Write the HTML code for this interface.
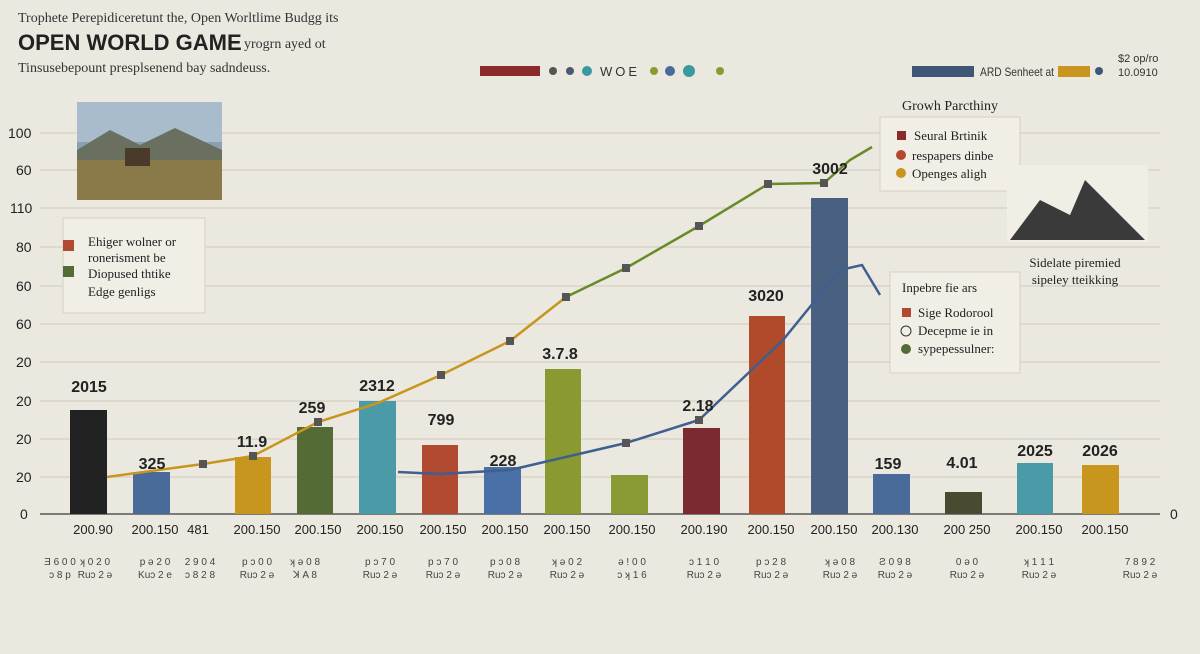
<!DOCTYPE html>
<html><head><meta charset="utf-8"><style>
body{margin:0;background:#ebe8df;}
svg{display:block;font-family:"Liberation Sans",sans-serif;}
</style></head><body>
<svg width="1200" height="654" viewBox="0 0 1200 654" xmlns="http://www.w3.org/2000/svg">
<rect width="1200" height="654" fill="#ebe8df"/>
<text x="18" y="22" font-family="Liberation Serif" font-size="14" fill="#333">Trophete Perepidiceretunt the, Open Worltlime Budgg its</text>
<text x="18" y="50" font-size="22" font-weight="bold" fill="#222">OPEN WORLD GAME</text>
<text x="244" y="48" font-family="Liberation Serif" font-size="14" fill="#333">yrogrn ayed ot</text>
<text x="18" y="72" font-family="Liberation Serif" font-size="14" fill="#333">Tinsusebepount presplsenend bay sadndeuss.</text>
<rect x="480" y="66" width="60" height="10" fill="#8a2a2a"/>
<circle cx="553" cy="71" r="4" fill="#555"/><circle cx="570" cy="71" r="4" fill="#4a5a70"/><circle cx="587" cy="71" r="5" fill="#3a9aa0"/>
<text x="600" y="76" font-size="13" fill="#333" letter-spacing="3">WOE</text>
<circle cx="654" cy="71" r="4" fill="#8a9a30"/><circle cx="670" cy="71" r="5" fill="#4a6a9a"/><circle cx="689" cy="71" r="6" fill="#3a9aa0"/><circle cx="720" cy="71" r="4" fill="#8a9a30"/>
<rect x="912" y="66" width="62" height="11" fill="#3f5777"/>
<text x="980" y="76" font-size="12" fill="#333" textLength="74" lengthAdjust="spacingAndGlyphs">ARD Senheet at</text>
<rect x="1058" y="66" width="32" height="11" fill="#c8961e"/>
<circle cx="1099" cy="71" r="4" fill="#3f5777"/>
<text x="1118" y="62" font-size="11" fill="#333">$2 op/ro</text>
<text x="1118" y="76" font-size="11" fill="#333">10.0910</text>
<g stroke="#cfcabd" stroke-width="1">
<line x1="40" y1="133" x2="1160" y2="133"/><line x1="40" y1="170" x2="1160" y2="170"/><line x1="40" y1="208" x2="1160" y2="208"/><line x1="40" y1="247" x2="1160" y2="247"/><line x1="40" y1="286" x2="1160" y2="286"/><line x1="40" y1="324" x2="1160" y2="324"/><line x1="40" y1="362" x2="1160" y2="362"/><line x1="40" y1="401" x2="1160" y2="401"/><line x1="40" y1="439" x2="1160" y2="439"/><line x1="40" y1="477" x2="1160" y2="477"/>
</g>
<line x1="40" y1="514" x2="1160" y2="514" stroke="#555" stroke-width="1.5"/>
<g font-size="14" fill="#222">
<text x="8" y="138">100</text><text x="16" y="175">60</text><text x="10" y="213">110</text><text x="16" y="252">80</text><text x="16" y="291">60</text><text x="16" y="329">60</text><text x="16" y="367">20</text><text x="16" y="406">20</text><text x="16" y="444">20</text><text x="16" y="482">20</text><text x="20" y="519">0</text>
<text x="1170" y="519">0</text>
</g>
<rect x="70" y="410" width="37" height="104" fill="#222"/>
<rect x="133" y="472" width="37" height="42" fill="#4a6a9a"/>
<rect x="235" y="457" width="36" height="57" fill="#c8961e"/>
<rect x="297" y="427" width="36" height="87" fill="#556b35"/>
<rect x="359" y="401" width="37" height="113" fill="#4a9aa8"/>
<rect x="422" y="445" width="36" height="69" fill="#b04a30"/>
<rect x="484" y="467" width="37" height="47" fill="#4a70a8"/>
<rect x="545" y="369" width="36" height="145" fill="#8a9a30"/>
<rect x="611" y="475" width="37" height="39" fill="#8a9a35"/>
<rect x="683" y="428" width="37" height="86" fill="#7a2a30"/>
<rect x="749" y="316" width="36" height="198" fill="#b04a2a"/>
<rect x="811" y="198" width="37" height="316" fill="#4a6080"/>
<rect x="873" y="474" width="37" height="40" fill="#4a6a9a"/>
<rect x="945" y="492" width="37" height="22" fill="#4a4a30"/>
<rect x="1017" y="463" width="36" height="51" fill="#4a9aa8"/>
<rect x="1082" y="465" width="37" height="49" fill="#c8961e"/>
<polyline fill="none" stroke="#c8961e" stroke-width="2.5" points="107,477 203,464 253,456 318,422 378,403 441,375 510,341 566,297"/>
<polyline fill="none" stroke="#6a8a2a" stroke-width="2.5" points="566,297 626,268 699,226 768,184 824,183 850,160 872,147"/>
<polyline fill="none" stroke="#3f5f90" stroke-width="2.5" points="398,472 440,474 510,470 626,443 699,420 783,340 840,270 862,265 880,295"/>
<g fill="#555">
<rect x="199" y="460" width="8" height="8"/><rect x="249" y="452" width="8" height="8"/><rect x="314" y="418" width="8" height="8"/><rect x="437" y="371" width="8" height="8"/><rect x="506" y="337" width="8" height="8"/><rect x="562" y="293" width="8" height="8"/><rect x="622" y="264" width="8" height="8"/><rect x="695" y="222" width="8" height="8"/><rect x="764" y="180" width="8" height="8"/><rect x="820" y="179" width="8" height="8"/>
<rect x="622" y="439" width="8" height="8"/><rect x="695" y="416" width="8" height="8"/>
</g>
<g font-size="16" font-weight="bold" fill="#222" text-anchor="middle">
<text x="89" y="392">2015</text><text x="152" y="469">325</text><text x="252" y="447">11.9</text><text x="312" y="413">259</text><text x="377" y="391">2312</text><text x="441" y="425">799</text><text x="503" y="466">228</text><text x="560" y="359">3.7.8</text><text x="698" y="411">2.18</text><text x="766" y="301">3020</text><text x="830" y="174">3002</text><text x="888" y="469">159</text><text x="962" y="468">4.01</text><text x="1035" y="456">2025</text><text x="1100" y="456">2026</text>
</g>
<g font-size="13" fill="#222" text-anchor="middle">
<text x="93" y="534">200.90</text><text x="155" y="534">200.150</text><text x="198" y="534">481</text><text x="257" y="534">200.150</text><text x="318" y="534">200.150</text><text x="380" y="534">200.150</text><text x="443" y="534">200.150</text><text x="505" y="534">200.150</text><text x="567" y="534">200.150</text><text x="632" y="534">200.150</text><text x="704" y="534">200.190</text><text x="771" y="534">200.150</text><text x="834" y="534">200.150</text><text x="895" y="534">200.130</text><text x="967" y="534">200 250</text><text x="1039" y="534">200.150</text><text x="1105" y="534">200.150</text>
</g>
<g font-size="10" fill="#444" text-anchor="middle">
<text x="60" y="565">Ǝ 6 0 0</text><text x="60" y="578">ɔ 8 p</text>
<text x="95" y="565">ʞ 0 2 0</text><text x="95" y="578">Ruɔ 2 ə</text>
<text x="155" y="565">p ə 2 0</text><text x="155" y="578">Kuɔ 2 e</text>
<text x="200" y="565">2 9 0 4</text><text x="200" y="578">ɔ 8 2 8</text>
<text x="257" y="565">p ɔ 0 0</text><text x="257" y="578">Ruɔ 2 ə</text>
<text x="305" y="565">ʞ ə 0 8</text><text x="305" y="578">ꓘ A 8</text>
<text x="380" y="565">p ɔ 7 0</text><text x="380" y="578">Ruɔ 2 ə</text>
<text x="443" y="565">p ɔ 7 0</text><text x="443" y="578">Ruɔ 2 ə</text>
<text x="505" y="565">p ɔ 0 8</text><text x="505" y="578">Ruɔ 2 ə</text>
<text x="567" y="565">ʞ ə 0 2</text><text x="567" y="578">Ruɔ 2 ə</text>
<text x="632" y="565">ə ! 0 0</text><text x="632" y="578">ɔ ʞ 1 6</text>
<text x="704" y="565">ɔ 1 1 0</text><text x="704" y="578">Ruɔ 2 ə</text>
<text x="771" y="565">p ɔ 2 8</text><text x="771" y="578">Ruɔ 2 ə</text>
<text x="840" y="565">ʞ ə 0 8</text><text x="840" y="578">Ruɔ 2 ə</text>
<text x="895" y="565">Ƨ 0 9 8</text><text x="895" y="578">Ruɔ 2 ə</text>
<text x="967" y="565">0 ə 0</text><text x="967" y="578">Ruɔ 2 ə</text>
<text x="1039" y="565">ʞ 1 1 1</text><text x="1039" y="578">Ruɔ 2 ə</text>
<text x="1140" y="565">7 8 9 2</text><text x="1140" y="578">Ruɔ 2 ə</text>
</g>
<rect x="77" y="102" width="145" height="98" fill="#8aa0b0"/>
<rect x="77" y="102" width="145" height="40" fill="#a8bccb"/>
<polygon points="77,150 110,130 140,145 175,128 222,150 222,200 77,200" fill="#6a7060"/>
<rect x="77" y="160" width="145" height="40" fill="#8a7a4a"/>
<rect x="125" y="148" width="25" height="18" fill="#4a3a2a"/>
<rect x="63" y="218" width="142" height="95" fill="#f1eee6" stroke="#d5d0c4"/>
<rect x="63" y="240" width="11" height="11" fill="#b04a30"/>
<rect x="63" y="266" width="11" height="11" fill="#556b35"/>
<g font-family="Liberation Serif" font-size="13" fill="#222">
<text x="88" y="246">Ehiger wolner or</text><text x="88" y="262">ronerisment be</text><text x="88" y="278">Diopused thtike</text><text x="88" y="296">Edge genligs</text>
</g>
<text x="950" y="110" font-family="Liberation Serif" font-size="14" fill="#222" text-anchor="middle">Growh Parcthiny</text>
<rect x="880" y="117" width="140" height="74" fill="#f1eee6" stroke="#d5d0c4"/>
<rect x="897" y="131" width="9" height="9" fill="#8a2a2a"/><circle cx="901" cy="155" r="5" fill="#b04a30"/><circle cx="901" cy="173" r="5" fill="#c8961e"/>
<g font-family="Liberation Serif" font-size="13" fill="#222">
<text x="914" y="140">Seural Brtinik</text><text x="912" y="160">respapers dinbe</text><text x="912" y="178">Openges aligh</text>
</g>
<rect x="1007" y="165" width="141" height="77" fill="#f1eee6"/>
<polygon points="1010,240 1040,200 1070,215 1085,180 1110,205 1145,240" fill="#3a3a3a"/>
<text x="1075" y="267" font-family="Liberation Serif" font-size="13" fill="#222" text-anchor="middle">Sidelate piremied</text>
<text x="1075" y="284" font-family="Liberation Serif" font-size="13" fill="#222" text-anchor="middle">sipeley tteikking</text>
<rect x="890" y="272" width="130" height="101" fill="#f1eee6" stroke="#d5d0c4"/>
<g font-family="Liberation Serif" font-size="13" fill="#222">
<text x="902" y="292">Inpebre fie ars</text>
<rect x="902" y="308" width="9" height="9" fill="#b04a30"/><text x="918" y="317">Sige Rodorool</text>
<circle cx="906" cy="331" r="5" fill="none" stroke="#333"/><text x="918" y="335">Decepme ie in</text>
<circle cx="906" cy="349" r="5" fill="#556b35"/><text x="918" y="353">sypepessulner:</text>
</g>
</svg>
</body></html>
